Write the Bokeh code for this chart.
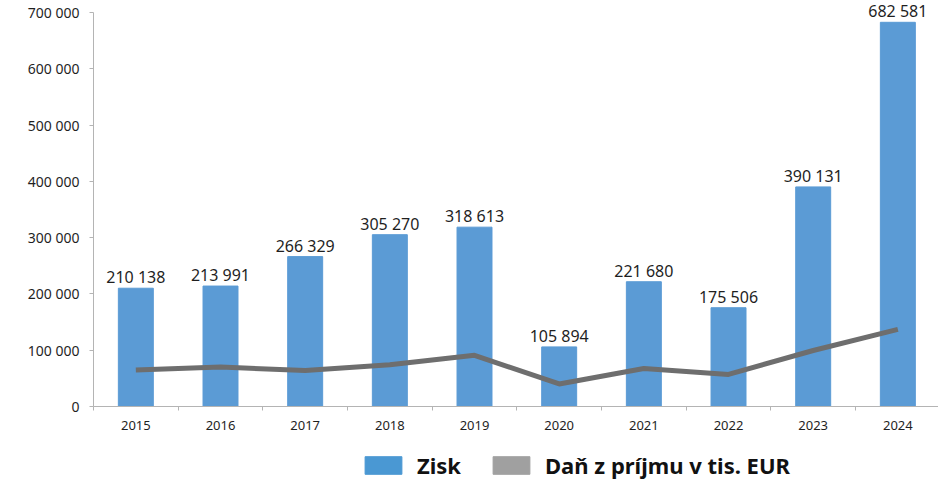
from bokeh.plotting import figure
from bokeh.layouts import column
from bokeh.models import Range1d, FixedTicker, Legend, LegendItem, ColumnDataSource, LabelSet
from bokeh.core.properties import value
from bokeh.embed import file_html
from bokeh.resources import INLINE

years = ["2015", "2016", "2017", "2018", "2019", "2020", "2021", "2022", "2023", "2024"]
zisk = [210138, 213991, 266329, 305270, 318613, 105894, 221680, 175506, 390131, 682581]
dan = [65000, 70000, 64000, 74000, 91000, 40000, 67500, 57000, 99500, 137000]
y_ticks = [0, 100000, 200000, 300000, 400000, 500000, 600000, 700000]
y_tick_labels = ["0", "100 000", "200 000", "300 000", "400 000", "500 000", "600 000", "700 000"]
series_names = ["Zisk", "Daň z príjmu v tis. EUR"]

FONT = "Noto Sans"
xs = list(range(len(years)))
labels = ["{:,}".format(v).replace(",", " ") for v in zisk]
src = ColumnDataSource(dict(x=xs, zisk=zisk, dan=dan, lab=labels))

p = figure(width=938, height=436, output_backend="svg", toolbar_location=None,
           x_range=Range1d(-0.5, 9.48), y_range=Range1d(0, 721320),
           min_border_left=93, min_border_right=0, min_border_top=0, min_border_bottom=30)
p.outline_line_color = None
p.xgrid.visible = False
p.ygrid.visible = False

p.vbar(x="x", top="zisk", width=0.413, source=src, color="#5B9BD5")
p.line(x="x", y="dan", source=src, line_color="#6E6E6E", line_width=5)
p.add_layout(LabelSet(x="x", y="zisk", text="lab", source=src, text_align="center",
                      text_baseline="bottom", y_offset=0, text_font=value(FONT),
                      text_font_size="16px", text_color="#1f1f1f"))

# y axis
p.yaxis.ticker = FixedTicker(ticks=y_ticks)
p.yaxis.bounds = (y_ticks[0], y_ticks[-1])
p.yaxis.major_label_overrides = {t: l for t, l in zip(y_ticks, y_tick_labels)}
p.yaxis.major_label_text_font = FONT
p.yaxis.major_label_text_font_size = "14px"
p.yaxis.major_label_text_color = "#1f1f1f"
p.yaxis.axis_line_color = "#b4b4b4"
p.yaxis.major_tick_line_color = "#b4b4b4"
p.yaxis.major_tick_in = 0
p.yaxis.major_tick_out = 4
p.yaxis.minor_tick_line_color = None
p.yaxis.major_label_standoff = 10

# x axis
p.xaxis.ticker = FixedTicker(ticks=xs, minor_ticks=[i - 0.5 for i in range(len(years) + 1)])
p.xaxis.major_label_overrides = {i: y for i, y in enumerate(years)}
p.xaxis.major_label_text_font = FONT
p.xaxis.major_label_text_font_size = "13px"
p.xaxis.major_label_text_color = "#1f1f1f"
p.xaxis.axis_line_color = "#b4b4b4"
p.xaxis.major_tick_line_color = None
p.xaxis.minor_tick_line_color = "#b4b4b4"
p.xaxis.minor_tick_in = 0
p.xaxis.minor_tick_out = 4
p.xaxis.major_label_standoff = 8

# legend figure (square swatches); its glyph renderers are hidden, only the legend shows
lf = figure(width=938, height=45, output_backend="svg", toolbar_location=None,
            x_range=Range1d(0, 1), y_range=Range1d(0, 1),
            min_border=0, x_axis_location=None, y_axis_location=None)
lf.outline_line_color = None
lf.xgrid.visible = False
lf.ygrid.visible = False
r1 = lf.vbar(x="x", top="zisk", width=0.4, source=src, color="#4A98D3", visible=False)
r2 = lf.vbar(x="x", top="dan", width=0.4, source=src, color="#A0A0A0", visible=False)
legend = Legend(items=[LegendItem(label=series_names[0], renderers=[r1]),
                       LegendItem(label=series_names[1], renderers=[r2])],
                orientation="horizontal", location=(267, 1),
                glyph_width=46, glyph_height=22, label_standoff=11, spacing=27,
                padding=0, margin=0, border_line_color=None, background_fill_alpha=0,
                inactive_fill_alpha=0,
                label_text_font=FONT, label_text_font_size="22px", label_text_font_style="bold",
                label_text_color="#111111", label_height=22)
lf.add_layout(legend, "center")

open("out.html", "w").write(file_html(column(p, lf, spacing=0), INLINE))
